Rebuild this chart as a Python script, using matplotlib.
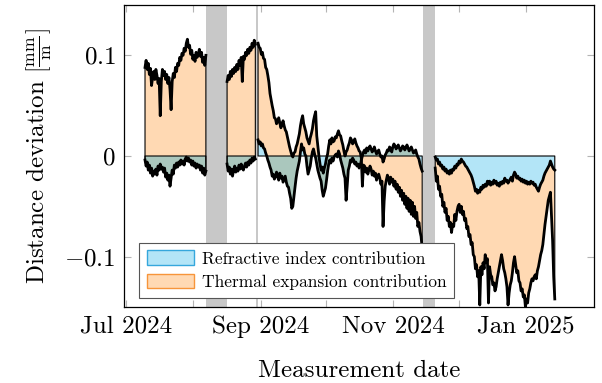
import numpy as np
import pandas as pd
import matplotlib
matplotlib.use("Agg")
import matplotlib.pyplot as plt
from matplotlib.patches import Patch

# ── fonts: Computer Modern look ─────────────────────────────────────────────
plt.rcParams["font.family"] = ["cmr10"]
plt.rcParams["mathtext.fontset"] = "cm"
plt.rcParams["axes.unicode_minus"] = False

# ── colours ─────────────────────────────────────────────────────────────────
BLUE = "#b3e5f7"
BLUE_EDGE = "#35a7dc"
ORANGE = "#ffd9b3"
ORANGE_EDGE = "#f7953a"
OVERLAP = "#aac7bd"
GAP_COLOR = "#c8c8c8"
TICK_COLOR = "#b4b4b4"

# ── data (µm/m, sampled every 12 h) ─────────────────────────────────────────
# refractive index contribution (R) and total deviation (T) per segment
SEG1_START = "2024-07-09 18:00"
SEG1_R = [-4, -10, -6, -14, -9, -17, -12, -20, -15, -18,
          -13, -19, -10, -14, -8, -13, -11, -16, -12, -21,
          -17, -24, -19, -30, -22, -14, -18, -9, -12, -7,
          -11, -6, -9, -4, -8, -5, -9, -3, -1, -5,
          -2, -6, -4, -9, -5, -10, -7, -12, -8, -11,
          -9, -14, -10, -17, -12, -19, -15]
SEG1_T = [88, 95, 86, 92, 81, 87, 70, 78, 84, 76,
          86, 80, 72, 77, 40, 74, 86, 80, 84, 76,
          81, 72, 78, 66, 46, 74, 82, 78, 88, 84,
          92, 90, 98, 95, 102, 100, 107, 104, 112, 116,
          108, 110, 101, 105, 96, 100, 94, 103, 98, 101,
          106, 99, 103, 93, 98, 90, 100]

SEG2_START = "2024-08-16 12:00"
SEG2_R = [-8, -15, -11, -18, -13, -20, -14, -10, -16, -12,
          -15, -9, -13, -8, -12, -14, -10, -7, -11, -6,
          -9, -4, -7, -2, -5, -1, -3]
SEG2_T = [74, 80, 76, 84, 79, 86, 82, 88, 84, 91,
          86, 95, 90, 98, 74, 99, 96, 103, 100, 106,
          102, 108, 105, 112, 108, 115, 111]

SEG3_START = "2024-08-30 18:00"
SEG3_R = [16, 12, 14, 10, 12, 8, 7, 3, 0, -4,
          -7, -11, -14, -20, -18, -23, -21, -16, -19, -24,
          -17, -22, -20, -26, -23, -20, -26, -30, -31, -37,
          -42, -52, -50, -40, -31, -22, -15, -10, -5, 4,
          12, 6, 8, 2, 0, -10, -18, -14, -10, -2,
          4, 7, 2, -2, -8, -14, -18, -22, -25, -34,
          -40, -36, -32, -24, -15, -8, -4, -7, -2, -5,
          -1, 1, 2, -1, 5, 2, -4, -8, -12, -18,
          -22, -44, -30, -14, -10, -4, -6, -2, -4, -8,
          -6, -10, -8, -12, -10, -4, 0, 4, 6, 3,
          8, 5, 8, 10, 7, 4, 6, 9, 5, 2,
          4, 6, 2, -1, 0, -6, -3, 1, 3, 6,
          5, 9, 7, 4, 9, 12, 10, 7, 9, 11,
          8, 5, 7, 10, 9, 6, 8, 11, 8, 5,
          7, 9, 6, 3, 4, 6, 2, -1, -3, -8,
          -12, -15]
SEG3_T = [112, 108, 107, 101, 103, 97, 96, 88, 86, 80,
          73, 62, 56, 50, 45, 38, 37, 32, 34, 38,
          33, 28, 31, 35, 30, 26, 24, 19, 14, 9,
          5, 1, -1, 3, 4, 9, 12, 17, 22, 30,
          36, 40, 32, 28, 24, 18, 15, 12, 18, 22,
          27, 35, 40, 44, 20, 10, 0, -8, -14, -11,
          -17, -12, -8, -2, 2, 10, 16, 12, 18, 14,
          15, 19, 18, 22, 25, 21, 20, 15, 11, 5,
          0, 4, 6, 10, 13, 18, 16, 12, 14, 17,
          13, 10, 8, 5, 4, -2, -30, -9, -10, -16,
          -12, -18, -14, -10, -13, -19, -15, -20, -17, -24,
          -20, -18, -22, -28, -25, -70, -45, -30, -24, -19,
          -22, -28, -21, -26, -23, -30, -25, -33, -28, -36,
          -31, -40, -34, -44, -37, -48, -40, -52, -42, -55,
          -44, -58, -46, -60, -50, -62, -56, -70, -66, -75,
          -80, -92]

SEG4_START = "2024-11-20 06:00"
SEG4_R = [-1, -4, -3, -8, -6, -10, -9, -13, -11, -15,
          -13, -17, -15, -18, -14, -17, -13, -14, -10, -12,
          -8, -9, -5, -7, -3, -5, -6, -8, -10, -11,
          -13, -15, -17, -19, -22, -26, -30, -35, -33, -37,
          -34, -36, -31, -33, -29, -31, -28, -30, -25, -28,
          -25, -29, -26, -28, -24, -27, -25, -29, -27, -30,
          -26, -28, -25, -27, -22, -25, -24, -27, -25, -23,
          -21, -25, -19, -16, -18, -22, -20, -23, -22, -25,
          -23, -26, -24, -27, -25, -28, -26, -28, -25, -27,
          -26, -29, -28, -31, -33, -35, -31, -28, -26, -24,
          -20, -17, -15, -13, -11, -9, -5, -8, -11, -13,
          -14]
SEG4_T = [-12, -25, -20, -33, -30, -40, -38, -50, -46, -56,
          -52, -64, -60, -70, -66, -76, -68, -70, -58, -64,
          -55, -50, -48, -56, -50, -58, -55, -64, -62, -72,
          -70, -80, -78, -88, -86, -98, -100, -112, -108, -120,
          -114, -148, -110, -118, -106, -112, -98, -106, -102, -146,
          -110, -118, -120, -128, -126, -134, -130, -122, -116, -110,
          -104, -98, -104, -112, -116, -122, -130, -148, -136, -128,
          -124, -116, -106, -100, -108, -116, -114, -124, -126, -134,
          -132, -140, -138, -150, -142, -146, -136, -132, -126, -122,
          -124, -120, -118, -122, -114, -110, -104, -98, -94, -88,
          -78, -68, -60, -52, -44, -40, -36, -60, -84, -120,
          -142]

SEGMENTS = [
    (SEG1_START, SEG1_R, SEG1_T),
    (SEG2_START, SEG2_R, SEG2_T),
    (SEG3_START, SEG3_R, SEG3_T),
    (SEG4_START, SEG4_R, SEG4_T),
]

# periods without measurements
GAPS = [
    ("2024-08-06 20:00", "2024-08-16 08:00"),
    ("2024-08-29 17:00", "2024-08-30 14:00"),
    ("2024-11-14 12:00", "2024-11-20 00:00"),
]

X_TICKS = ["2024-07-01", "2024-08-01", "2024-09-01", "2024-10-01",
           "2024-11-01", "2024-12-01", "2025-01-01"]
X_TICK_LABELS = ["Jul 2024", "", "Sep 2024", "", "Nov 2024", "", "Jan 2025"]
Y_TICKS = [-0.1, 0.0, 0.1]
Y_TICK_LABELS = [r"$-0.1$", r"$0$", r"$0.1$"]

# ── figure ──────────────────────────────────────────────────────────────────
fig = plt.figure(figsize=(6.02, 3.83), dpi=100)
ax = fig.add_axes([124 / 602, 1 - 307 / 383, 470 / 602, 302 / 383])

for a, b in GAPS:
    ax.axvspan(pd.Timestamp(a), pd.Timestamp(b), color=GAP_COLOR, lw=0, zorder=1)

for start, r_vals, t_vals in SEGMENTS:
    r = np.array(r_vals) / 1000.0
    t = np.array(t_vals) / 1000.0
    dates = pd.date_range(start, periods=len(r), freq="12h")

    ax.fill_between(dates, 0, r, facecolor=BLUE, lw=0, zorder=2)
    ax.fill_between(dates, r, t, facecolor=ORANGE, lw=0, zorder=2)
    # where both contributions stack on the same side they overlap
    lo = np.maximum(np.minimum(0, r), np.minimum(r, t))
    hi = np.minimum(np.maximum(0, r), np.maximum(r, t))
    ax.fill_between(dates, lo, np.maximum(hi, lo), facecolor=OVERLAP, lw=0, zorder=3)

    # outlines
    ax.fill_between(dates, 0, r, facecolor="none", edgecolor="black", lw=0.8, zorder=4)
    ax.fill_between(dates, r, t, facecolor="none", edgecolor="black", lw=0.8, zorder=4)
    ax.plot(dates, r, color="black", lw=2.0, zorder=5)
    ax.plot(dates, t, color="black", lw=2.0, zorder=5)

ax.set_xlim(pd.Timestamp("2024-06-30 02:00"), pd.Timestamp("2025-02-01 07:00"))
ax.set_ylim(-0.15, 0.15)

ax.set_xticks([pd.Timestamp(d) for d in X_TICKS])
ax.set_xticklabels(X_TICK_LABELS)
ax.set_yticks(Y_TICKS)
ax.set_yticklabels(Y_TICK_LABELS)
ax.tick_params(direction="in", length=5, width=0.8, color=TICK_COLOR,
               top=True, right=True, labelsize=18, pad=6)

for sp in ax.spines.values():
    sp.set_linewidth(0.9)
    sp.set_zorder(6)

ax.set_xlabel("Measurement date", fontsize=18, labelpad=16)
ax.set_ylabel(r"Distance deviation $\left[\frac{\mathrm{mm}}{\mathrm{m}}\right]$",
              fontsize=18, labelpad=8)

handles = [
    Patch(facecolor=BLUE, edgecolor=BLUE_EDGE, label="Refractive index contribution"),
    Patch(facecolor=ORANGE, edgecolor=ORANGE_EDGE, label="Thermal expansion contribution"),
]
leg = ax.legend(handles=handles, loc="lower left", bbox_to_anchor=(0.032, 0.03),
                fontsize=12.5, frameon=True, fancybox=False, edgecolor="#555555",
                framealpha=1, handlelength=2.7, handleheight=0.9, handletextpad=0.45,
                borderpad=0.45, labelspacing=0.42, borderaxespad=0)
leg.get_frame().set_linewidth(0.8)
leg.set_zorder(10)

fig.savefig("out.png", dpi=100, facecolor="white")
